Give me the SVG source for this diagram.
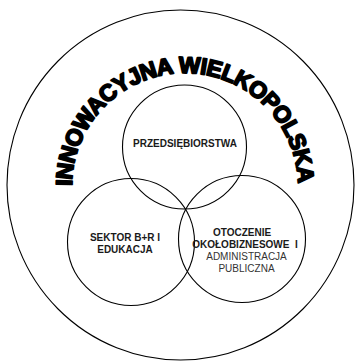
<svg xmlns="http://www.w3.org/2000/svg" width="358" height="361" viewBox="0 0 358 361">
  <style>
    .c { fill: none; stroke: #000; stroke-width: 1.1; }
    .b { font-family: "Liberation Sans", Arial, sans-serif; font-size: 10px; font-weight: bold; fill: #1a1a1a; text-anchor: middle; }
    .r { font-family: "Liberation Sans", Arial, sans-serif; font-size: 10px; fill: #333; text-anchor: middle; }
    .title { font-family: "Liberation Sans", Arial, sans-serif; font-size: 23px; font-weight: bold; fill: #000; stroke: #000; stroke-width: 1.8; stroke-linejoin: round; }
  </style>
  <defs>
    <path id="arc" d="M 72,186 A 113,113 0 0 1 298,186"/>
  </defs>
  <rect width="358" height="361" fill="#fff"/>
  <g id="wielkopolska">
    <ellipse class="c" cx="180.5" cy="185" rx="173.5" ry="175"/>
    <text class="title"><textPath href="#arc" textLength="352" lengthAdjust="spacing">INNOWACYJNA WIELKOPOLSKA</textPath></text>
  </g>
  <g id="przedsiebiorstwa">
    <circle class="c" cx="184.5" cy="147" r="62"/>
    <text class="b" x="185" y="147">PRZEDSIĘBIORSTWA</text>
  </g>
  <g id="sektor">
    <circle class="c" cx="131" cy="242" r="63.5"/>
    <text class="b" x="125" y="241">SEKTOR B+R I</text>
    <text class="b" x="125" y="253">EDUKACJA</text>
  </g>
  <g id="otoczenie">
    <circle class="c" cx="242" cy="239" r="63.5"/>
    <text class="b" x="242" y="236">OTOCZENIE</text>
    <text class="b" x="245" y="248" xml:space="preserve">OKOŁOBIZNESOWE  I</text>
    <text class="r" x="246.5" y="260">ADMINISTRACJA</text>
    <text class="r" x="246.5" y="272">PUBLICZNA</text>
  </g>
</svg>
